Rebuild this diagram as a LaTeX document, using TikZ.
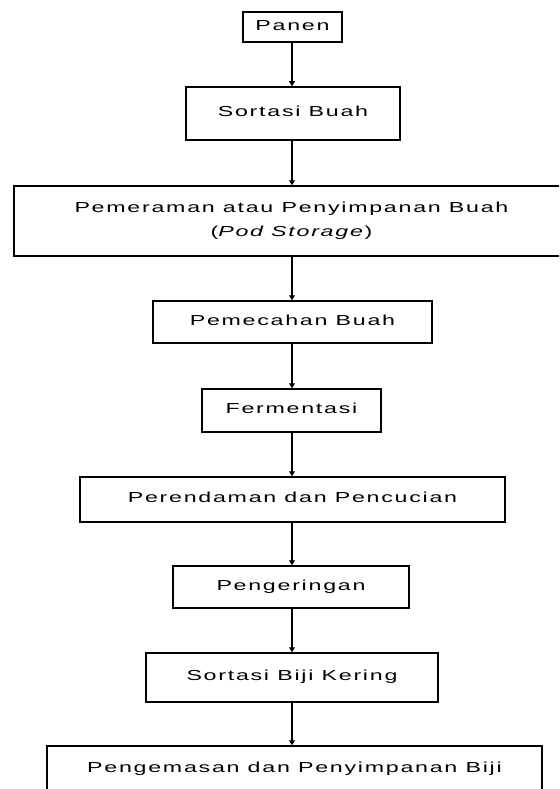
\documentclass[tikz,border=0pt]{standalone}
\usepackage{fontspec}
\setmainfont{Liberation Sans}
\newfontfamily\boxfont[FakeStretch=1.6,LetterSpace=12]{Liberation Sans}
\usetikzlibrary{arrows.meta}
\begin{document}
\begin{tikzpicture}[x=1pt,y=-1pt,
  stepbox/.style={draw, line width=1.5pt, fill=white, inner sep=0pt,
    font=\boxfont\fontsize{14.5}{24}\selectfont, align=center,
    text height=10.4pt, text depth=4pt},
  twoline/.style={text height={}, text depth={}},
  arr/.style={-{Triangle[width=6pt,length=5pt]}, line width=1.2pt}]
\useasboundingbox (0,0) rectangle (559,789);
\clip (0,0) rectangle (559,789);
\fill[white] (0,0) rectangle (559,789);
\coordinate (spine) at (292,0);
\node[stepbox, minimum width=99pt,  minimum height=30pt] (n1) at (292.5,27)  {Panen};
\node[stepbox, minimum width=214pt, minimum height=53pt] (n2) at (293,113.5) {Sortasi Buah};
\node[stepbox, twoline, minimum width=555pt, minimum height=70pt] (n3) at (291.5,221) {Pemeraman atau Penyimpanan Buah\\(\textit{Pod Storage})};
\node[stepbox, minimum width=279pt, minimum height=42pt] (n4) at (292.5,322) {Pemecahan Buah};
\node[stepbox, minimum width=179pt, minimum height=43pt] (n5) at (291.5,410.5) {Fermentasi};
\node[stepbox, minimum width=425pt, minimum height=45pt] (n6) at (292.5,499.5) {Perendaman dan Pencucian};
\node[stepbox, minimum width=236pt, minimum height=42pt] (n7) at (291,587) {Pengeringan};
\node[stepbox, minimum width=292pt, minimum height=49pt] (n8) at (292,677.5) {Sortasi Biji Kering};
\node[stepbox, minimum width=495pt, minimum height=46pt] (n9) at (294.5,769) {Pengemasan dan Penyimpanan Biji};
\foreach \a/\b in {n1/n2,n2/n3,n3/n4,n4/n5,n5/n6,n6/n7,n7/n8,n8/n9}
  \draw[arr] (\a.south -| spine) -- (\b.north -| spine);
\end{tikzpicture}
\end{document}
